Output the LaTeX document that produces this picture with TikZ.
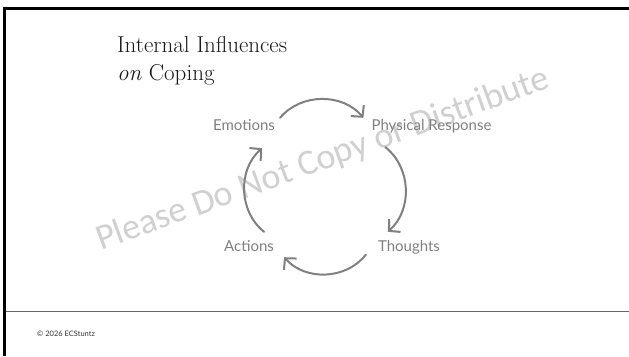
\documentclass[tikz,border=0pt]{standalone}
\usepackage{fontspec}
\newfontfamily\labelfont{Lato}
\newfontfamily\markfont{Carlito}
\usetikzlibrary{arrows.meta}
\definecolor{cyclegray}{RGB}{128,128,128}
\definecolor{markgray}{RGB}{208,208,208}
\tikzset{
  stage/.style={font=\labelfont\fontsize{15}{18}\selectfont, text=cyclegray,
    inner sep=0pt, text height=12pt, text depth=3pt},
  cyc/.style={draw=cyclegray, line width=2pt, line cap=round,
    -{Straight Barb[length=8pt,width=17pt,line width=2pt]}, bend left=50},
  ttl/.style={font=\fontsize{23}{28}\selectfont, anchor=base west, inner sep=0pt, text=black!90}
}
\begin{document}
\begin{tikzpicture}[x=1pt,y=-1pt]
\useasboundingbox[fill=white] (0,0) rectangle (629,356);
\draw[line width=3pt] (3,8) -- (629,8);
\draw[line width=3pt] (4.5,6.5) -- (4.5,356);
\draw[line width=1.5pt, black!60] (6,311.5) -- (629,311.5);
\node[font=\markfont\fontsize{36}{40}\selectfont, text=markgray, rotate=20] (mark) at (323,160) {Please Do Not Copy or Distribute};
\node[ttl] (ttla) at (117,52) {Internal Influences};
\node[ttl] (ttlb) at (117,80) {\textit{on} Coping};
\node[stage] (emo) at (244,125.5) {Emotions};
\node[stage] (phys) at (431.5,125.5) {Physical Response};
\node[stage] (th) at (409,247) {Thoughts};
\node[stage] (act) at (249,247) {Actions};
\draw[cyc] ([xshift=5pt]emo.north east) to ([xshift=-8pt]phys.north west);
\draw[cyc] ([xshift=14pt,yshift=-14pt]phys.south west) to ([xshift=10pt,yshift=7.5pt]th.north west);
\draw[cyc] ([xshift=-12pt]th.south west) to ([xshift=10pt,yshift=-2.5pt]act.south east);
\draw[cyc] ([xshift=-10pt,yshift=7.5pt]act.north east) to ([xshift=-13pt,yshift=-15pt]emo.south east);
\node[anchor=base west, inner sep=0pt, font=\labelfont\fontsize{7.5}{9}\selectfont, text=black!80] (copy) at (37,336) {© 2026 ECStuntz};
\end{tikzpicture}
\end{document}
